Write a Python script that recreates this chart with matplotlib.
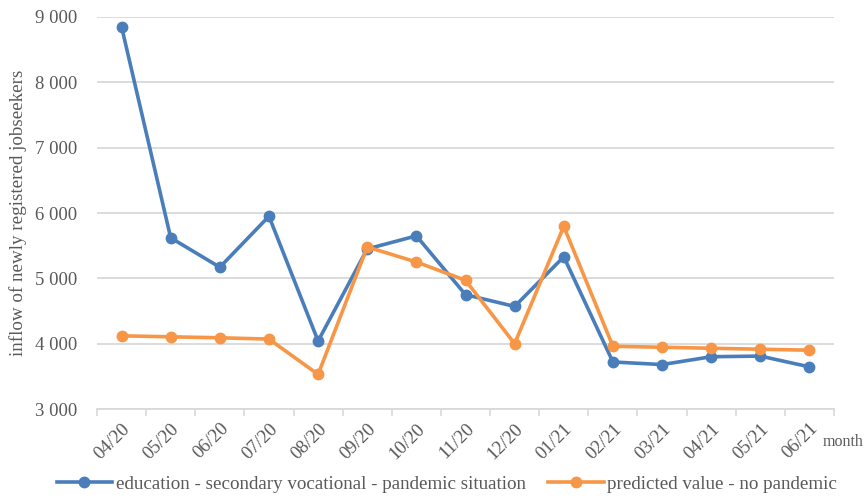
import matplotlib
matplotlib.use("Agg")
import matplotlib.pyplot as plt
from matplotlib.ticker import FuncFormatter

months = ["04/20", "05/20", "06/20", "07/20", "08/20", "09/20", "10/20", "11/20",
          "12/20", "01/21", "02/21", "03/21", "04/21", "05/21", "06/21"]
pandemic = [8850, 5620, 5170, 5950, 4040, 5450, 5650, 4750,
            4570, 5330, 3720, 3680, 3800, 3810, 3645]
predicted = [4120, 4105, 4090, 4070, 3530, 5480, 5250, 4970,
             4000, 5795, 3960, 3945, 3930, 3915, 3900]

label_pandemic = "education - secondary vocational - pandemic situation"
label_predicted = "predicted value - no pandemic"

plt.rcParams["font.family"] = ["Liberation Serif", "DejaVu Serif"]
text_color = "#595959"

fig = plt.figure(figsize=(8.68, 4.98), dpi=100)
ax = fig.add_axes([97 / 868, 1 - 409 / 498, (834 - 97) / 868, (409 - 17) / 498])

x = list(range(len(months)))
ax.plot(x, pandemic, color="#4A7EBB", lw=2.6, marker="o", ms=7.5, label=label_pandemic, zorder=3)
ax.plot(x, predicted, color="#F79646", lw=2.6, marker="o", ms=7.5, label=label_predicted, zorder=4)

ax.set_xlim(-0.5, len(months) - 0.5)
ax.set_ylim(3000, 9000)
ax.set_yticks(range(3000, 9001, 1000))
ax.yaxis.set_major_formatter(FuncFormatter(lambda v, p: f"{int(v):,}".replace(",", " ")))
ax.grid(axis="y", color="#D9D9D9", lw=1.3)
ax.set_axisbelow(True)

ax.set_xticks(x)
ax.set_xticklabels(months, rotation=45, ha="right", va="top", rotation_mode="anchor")
ax.set_xticks([i - 0.5 for i in range(len(months) + 1)], minor=True)
ax.tick_params(axis="x", which="major", length=0, pad=8, labelsize=13.5, labelcolor=text_color)
ax.tick_params(axis="x", which="minor", length=5, color="#D9D9D9", width=1.2)
ax.tick_params(axis="y", length=0, pad=14, labelsize=13.5, labelcolor=text_color)

for side in ("top", "right", "left"):
    ax.spines[side].set_visible(False)
ax.spines["bottom"].set_color("#D9D9D9")
ax.spines["bottom"].set_linewidth(1.3)

ax.set_ylabel("inflow of newly registered jobseekers", fontsize=13.7, color=text_color, labelpad=6)
fig.text(823 / 868, 1 - 442 / 498, "month", fontsize=11.5, color=text_color, va="center", ha="left")

ax.legend(loc="center", bbox_to_anchor=(447 / 868, 1 - 484 / 498), bbox_transform=fig.transFigure,
          ncol=2, frameon=False, fontsize=13.7, labelcolor=text_color,
          handlelength=2.9, columnspacing=1.2, handletextpad=0.2)

fig.savefig("out.png", dpi=100)
